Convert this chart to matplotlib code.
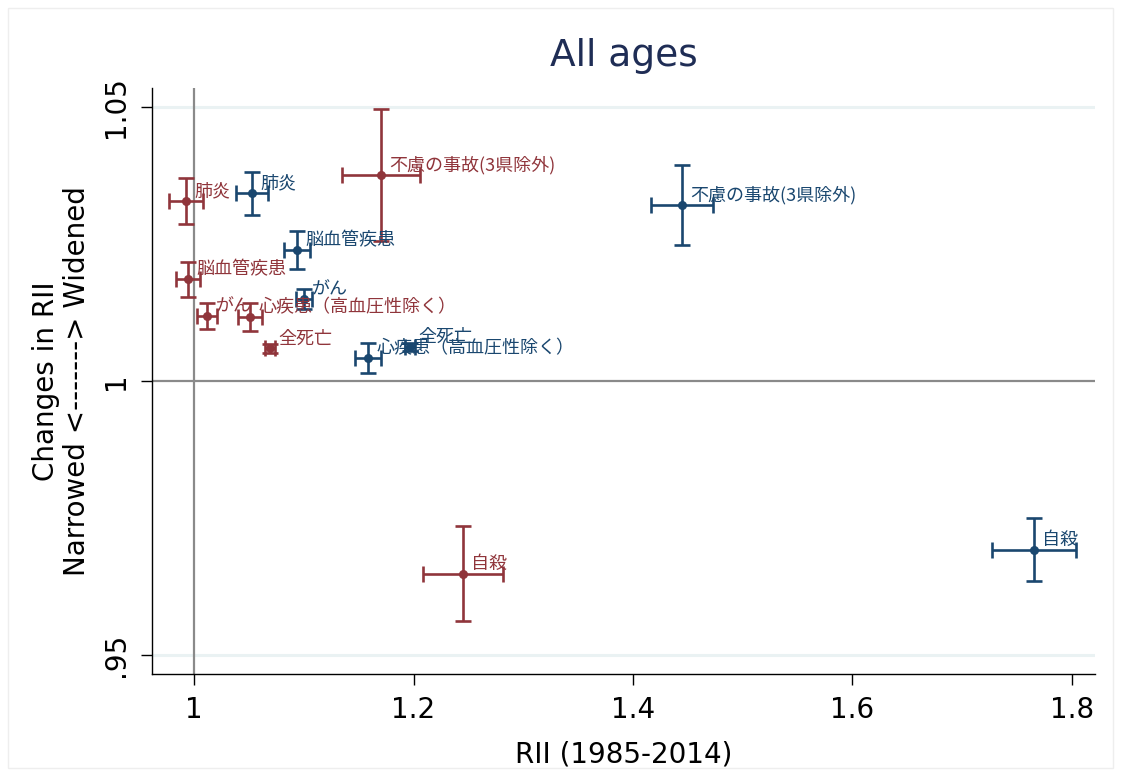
import matplotlib
matplotlib.use('Agg')
import matplotlib.pyplot as plt
from matplotlib.patches import Rectangle

# causes of death (labels)
causes = ['全死亡', 'がん', '心疾患（高血圧性除く）', '脳血管疾患', '肺炎',
          '不慮の事故(3県除外)', '自殺']

# red group: RII, change in RII, and their half-widths of the CIs
rii_red = [1.069, 1.012, 1.051, 0.9945, 0.9927, 1.1704, 1.2451]
chg_red = [1.0060, 1.0119, 1.0117, 1.0186, 1.0329, 1.0376, 0.9648]
rii_err_red = [0.0045, 0.0091, 0.011, 0.0105, 0.0155, 0.0355, 0.0364]
chg_err_red = [0.0008, 0.0024, 0.0026, 0.0032, 0.0042, 0.012, 0.0087]

# blue group
rii_blue = [1.1968, 1.1002, 1.1585, 1.0938, 1.0528, 1.4446, 1.7654]
chg_blue = [1.0062, 1.0150, 1.0042, 1.0239, 1.0343, 1.0321, 0.9692]
rii_err_blue = [0.0045, 0.0073, 0.0118, 0.0118, 0.015, 0.028, 0.0383]
chg_err_blue = [0.0008, 0.0018, 0.0028, 0.0035, 0.0039, 0.0073, 0.0058]

xticks = [1, 1.2, 1.4, 1.6, 1.8]
xtick_labels = ['1', '1.2', '1.4', '1.6', '1.8']
yticks = [0.95, 1, 1.05]
ytick_labels = ['.95', '1', '1.05']

RED = '#90353B'
BLUE = '#1A476F'
jp_font = ['Noto Sans CJK JP', 'DejaVu Sans']

plt.rcParams['font.family'] = ['DejaVu Sans']

fig = plt.figure(figsize=(11.21, 7.76), dpi=100)
fig.patches.append(Rectangle((8 / 1121, 8 / 776), 1 - 16 / 1121, 1 - 16 / 776,
                             transform=fig.transFigure, fill=False,
                             edgecolor='#EEEEEE', linewidth=1))
ax = fig.add_axes([152 / 1121, 102 / 776, 943 / 1121, 586 / 776])

# grid lines and reference lines
for yv in [0.95, 1.05]:
    ax.axhline(yv, color='#EAF2F3', linewidth=2.2, zorder=0)
ax.axhline(1, color='#8A8A8A', linewidth=1.6, zorder=1)
ax.axvline(1, color='#8A8A8A', linewidth=1.6, zorder=1)

for xs, ys, xe, ye, col in [(rii_red, chg_red, rii_err_red, chg_err_red, RED),
                            (rii_blue, chg_blue, rii_err_blue, chg_err_blue, BLUE)]:
    ax.errorbar(xs, ys, xerr=xe, yerr=ye, fmt='o', color=col, ecolor=col,
                markersize=5.5, elinewidth=1.9, capsize=5.5, capthick=1.9, zorder=3)
    for name, x, y in zip(causes, xs, ys):
        ax.annotate(name, (x, y), xytext=(6, 7), textcoords='offset points',
                    ha='left', va='center', fontsize=13, color=col,
                    family=jp_font, zorder=4)

ax.set_xlim(0.9617, 1.821)
ax.set_ylim(0.9465, 1.0535)
ax.set_xticks(xticks)
ax.set_xticklabels(xtick_labels)
ax.set_yticks(yticks)
ax.set_yticklabels(ytick_labels, rotation=90, va='center')
ax.tick_params(axis='both', labelsize=20, length=8, width=1, direction='out',
               pad=8)
for s in ['top', 'right']:
    ax.spines[s].set_visible(False)
for s in ['left', 'bottom']:
    ax.spines[s].set_linewidth(1)

ax.set_xlabel('RII (1985-2014)', fontsize=20, labelpad=12)
ax.set_ylabel('Changes in RII\nNarrowed <-------> Widened', fontsize=20,
              labelpad=8, linespacing=1.1)
ax.set_title('All ages', fontsize=27, color='#1F2D55', pad=16)

fig.savefig('out.png', dpi=100)
